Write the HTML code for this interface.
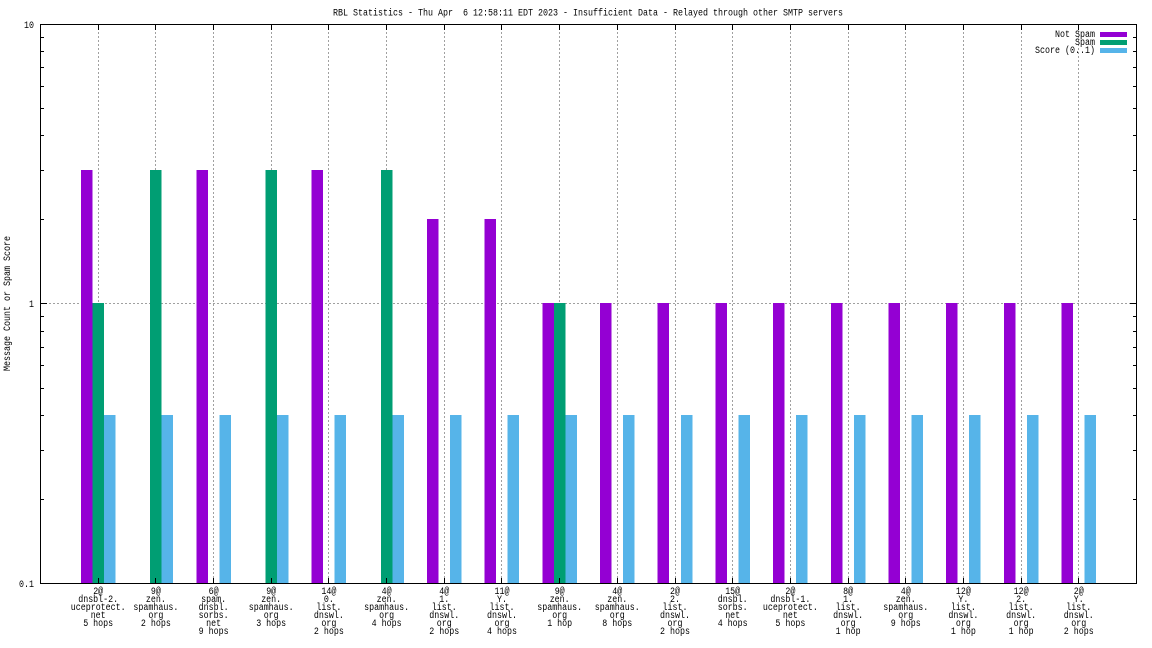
<!DOCTYPE html>
<html><head><meta charset="utf-8"><style>
html,body{margin:0;padding:0;background:#fff;}
svg{display:block;}
text{font-family:"Liberation Mono",monospace;font-size:10px;fill:#000;}
.xl text{text-anchor:middle;}
</style></head><body>
<svg width="1152" height="648" viewBox="0 0 1152 648" xmlns="http://www.w3.org/2000/svg">
<rect width="1152" height="648" fill="#fff"/>
<text x="588" y="15.5" text-anchor="middle" textLength="510" lengthAdjust="spacingAndGlyphs" xml:space="preserve" style="white-space:pre">RBL Statistics - Thu Apr  6 12:58:11 EDT 2023 - Insufficient Data - Relayed through other SMTP servers</text>
<text transform="translate(10,303.5) rotate(-90)" text-anchor="middle" textLength="135" lengthAdjust="spacingAndGlyphs">Message Count or Spam Score</text>
<text x="34" y="28" text-anchor="end" textLength="10" lengthAdjust="spacingAndGlyphs">10</text>
<text x="34" y="307" text-anchor="end" textLength="5" lengthAdjust="spacingAndGlyphs">1</text>
<text x="34" y="587" text-anchor="end" textLength="15" lengthAdjust="spacingAndGlyphs">0.1</text>
<g stroke="#a0a0a0" stroke-width="1" stroke-dasharray="2,2" shape-rendering="crispEdges">
<line x1="41" y1="303.5" x2="1136" y2="303.5"/>
<line x1="98.5" y1="24" x2="98.5" y2="583"/>
<line x1="155.5" y1="24" x2="155.5" y2="583"/>
<line x1="213.5" y1="24" x2="213.5" y2="583"/>
<line x1="271.5" y1="24" x2="271.5" y2="583"/>
<line x1="328.5" y1="24" x2="328.5" y2="583"/>
<line x1="386.5" y1="24" x2="386.5" y2="583"/>
<line x1="444.5" y1="24" x2="444.5" y2="583"/>
<line x1="501.5" y1="24" x2="501.5" y2="583"/>
<line x1="559.5" y1="24" x2="559.5" y2="583"/>
<line x1="617.5" y1="24" x2="617.5" y2="583"/>
<line x1="675.5" y1="24" x2="675.5" y2="583"/>
<line x1="732.5" y1="24" x2="732.5" y2="583"/>
<line x1="790.5" y1="24" x2="790.5" y2="583"/>
<line x1="848.5" y1="24" x2="848.5" y2="583"/>
<line x1="905.5" y1="24" x2="905.5" y2="583"/>
<line x1="963.5" y1="24" x2="963.5" y2="583"/>
<line x1="1021.5" y1="24" x2="1021.5" y2="583"/>
<line x1="1078.5" y1="24" x2="1078.5" y2="583"/>
</g>
<g shape-rendering="crispEdges">
<g fill="#9400d3">
<rect x="80.9" y="170" width="11.5" height="413"/>
<rect x="196.3" y="170" width="11.5" height="413"/>
<rect x="311.6" y="170" width="11.5" height="413"/>
<rect x="427" y="219" width="11.5" height="364"/>
<rect x="484.7" y="219" width="11.5" height="364"/>
<rect x="542.4" y="303" width="11.5" height="280"/>
<rect x="600" y="303" width="11.5" height="280"/>
<rect x="657.7" y="303" width="11.5" height="280"/>
<rect x="715.4" y="303" width="11.5" height="280"/>
<rect x="773.1" y="303" width="11.5" height="280"/>
<rect x="830.8" y="303" width="11.5" height="280"/>
<rect x="888.5" y="303" width="11.5" height="280"/>
<rect x="946.1" y="303" width="11.5" height="280"/>
<rect x="1003.8" y="303" width="11.5" height="280"/>
<rect x="1061.5" y="303" width="11.5" height="280"/>
</g>
<g fill="#009e73">
<rect x="92.4" y="303" width="11.5" height="280"/>
<rect x="150.1" y="170" width="11.5" height="413"/>
<rect x="265.5" y="170" width="11.5" height="413"/>
<rect x="380.8" y="170" width="11.5" height="413"/>
<rect x="553.9" y="303" width="11.5" height="280"/>
</g>
<g fill="#56b4e9">
<rect x="104" y="415" width="11.5" height="168"/>
<rect x="161.6" y="415" width="11.5" height="168"/>
<rect x="219.3" y="415" width="11.5" height="168"/>
<rect x="277" y="415" width="11.5" height="168"/>
<rect x="334.7" y="415" width="11.5" height="168"/>
<rect x="392.4" y="415" width="11.5" height="168"/>
<rect x="450.1" y="415" width="11.5" height="168"/>
<rect x="507.7" y="415" width="11.5" height="168"/>
<rect x="565.4" y="415" width="11.5" height="168"/>
<rect x="623.1" y="415" width="11.5" height="168"/>
<rect x="680.8" y="415" width="11.5" height="168"/>
<rect x="738.5" y="415" width="11.5" height="168"/>
<rect x="796.2" y="415" width="11.5" height="168"/>
<rect x="853.9" y="415" width="11.5" height="168"/>
<rect x="911.5" y="415" width="11.5" height="168"/>
<rect x="969.2" y="415" width="11.5" height="168"/>
<rect x="1026.9" y="415" width="11.5" height="168"/>
<rect x="1084.6" y="415" width="11.5" height="168"/>
</g>
</g>
<g stroke="#000" stroke-width="1" shape-rendering="crispEdges" fill="none">
<rect x="40.5" y="24.5" width="1096" height="559"/>
<path d="M40 37.5h4M40 51.5h4M40 67.5h4M40 86.5h4M40 108.5h4M40 135.5h4M40 170.5h4M40 219.5h4M40 316.5h4M40 331.5h4M40 347.5h4M40 365.5h4M40 388.5h4M40 415.5h4M40 450.5h4M40 499.5h4"/>
<path d="M1137 37.5h-4M1137 51.5h-4M1137 67.5h-4M1137 86.5h-4M1137 108.5h-4M1137 135.5h-4M1137 170.5h-4M1137 219.5h-4M1137 316.5h-4M1137 331.5h-4M1137 347.5h-4M1137 365.5h-4M1137 388.5h-4M1137 415.5h-4M1137 450.5h-4M1137 499.5h-4"/>
<path d="M40 303.5h7M1137 303.5h-7"/>
<path d="M98.5 24v6M155.5 24v6M213.5 24v6M271.5 24v6M328.5 24v6M386.5 24v6M444.5 24v6M501.5 24v6M559.5 24v6M617.5 24v6M675.5 24v6M732.5 24v6M790.5 24v6M848.5 24v6M905.5 24v6M963.5 24v6M1021.5 24v6M1078.5 24v6"/>
<path d="M98.5 584v-6M155.5 584v-6M213.5 584v-6M271.5 584v-6M328.5 584v-6M386.5 584v-6M444.5 584v-6M501.5 584v-6M559.5 584v-6M617.5 584v-6M675.5 584v-6M732.5 584v-6M790.5 584v-6M848.5 584v-6M905.5 584v-6M963.5 584v-6M1021.5 584v-6M1078.5 584v-6"/>
</g>
<text x="1095" y="37" text-anchor="end" textLength="40" lengthAdjust="spacingAndGlyphs">Not Spam</text>
<text x="1095" y="45" text-anchor="end" textLength="20" lengthAdjust="spacingAndGlyphs">Spam</text>
<text x="1095" y="53" text-anchor="end" textLength="60" lengthAdjust="spacingAndGlyphs">Score (0..1)</text>
<rect x="1100" y="32" width="27" height="5" fill="#9400d3"/>
<rect x="1100" y="40" width="27" height="5" fill="#009e73"/>
<rect x="1100" y="48" width="27" height="5" fill="#56b4e9"/>
<g class="xl">
<text x="98.2" y="594" textLength="10" lengthAdjust="spacingAndGlyphs">2@</text>
<text x="98.2" y="602" textLength="40" lengthAdjust="spacingAndGlyphs">dnsbl-2.</text>
<text x="98.2" y="610" textLength="55" lengthAdjust="spacingAndGlyphs">uceprotect.</text>
<text x="98.2" y="618" textLength="15" lengthAdjust="spacingAndGlyphs">net</text>
<text x="98.2" y="626" textLength="30" lengthAdjust="spacingAndGlyphs">5 hops</text>

<text x="155.9" y="594" textLength="10" lengthAdjust="spacingAndGlyphs">9@</text>
<text x="155.9" y="602" textLength="20" lengthAdjust="spacingAndGlyphs">zen.</text>
<text x="155.9" y="610" textLength="45" lengthAdjust="spacingAndGlyphs">spamhaus.</text>
<text x="155.9" y="618" textLength="15" lengthAdjust="spacingAndGlyphs">org</text>
<text x="155.9" y="626" textLength="30" lengthAdjust="spacingAndGlyphs">2 hops</text>

<text x="213.6" y="594" textLength="10" lengthAdjust="spacingAndGlyphs">6@</text>
<text x="213.6" y="602" textLength="25" lengthAdjust="spacingAndGlyphs">spam.</text>
<text x="213.6" y="610" textLength="30" lengthAdjust="spacingAndGlyphs">dnsbl.</text>
<text x="213.6" y="618" textLength="30" lengthAdjust="spacingAndGlyphs">sorbs.</text>
<text x="213.6" y="626" textLength="15" lengthAdjust="spacingAndGlyphs">net</text>
<text x="213.6" y="634" textLength="30" lengthAdjust="spacingAndGlyphs">9 hops</text>

<text x="271.2" y="594" textLength="10" lengthAdjust="spacingAndGlyphs">9@</text>
<text x="271.2" y="602" textLength="20" lengthAdjust="spacingAndGlyphs">zen.</text>
<text x="271.2" y="610" textLength="45" lengthAdjust="spacingAndGlyphs">spamhaus.</text>
<text x="271.2" y="618" textLength="15" lengthAdjust="spacingAndGlyphs">org</text>
<text x="271.2" y="626" textLength="30" lengthAdjust="spacingAndGlyphs">3 hops</text>

<text x="328.9" y="594" textLength="15" lengthAdjust="spacingAndGlyphs">14@</text>
<text x="328.9" y="602" textLength="10" lengthAdjust="spacingAndGlyphs">0.</text>
<text x="328.9" y="610" textLength="25" lengthAdjust="spacingAndGlyphs">list.</text>
<text x="328.9" y="618" textLength="30" lengthAdjust="spacingAndGlyphs">dnswl.</text>
<text x="328.9" y="626" textLength="15" lengthAdjust="spacingAndGlyphs">org</text>
<text x="328.9" y="634" textLength="30" lengthAdjust="spacingAndGlyphs">2 hops</text>

<text x="386.6" y="594" textLength="10" lengthAdjust="spacingAndGlyphs">4@</text>
<text x="386.6" y="602" textLength="20" lengthAdjust="spacingAndGlyphs">zen.</text>
<text x="386.6" y="610" textLength="45" lengthAdjust="spacingAndGlyphs">spamhaus.</text>
<text x="386.6" y="618" textLength="15" lengthAdjust="spacingAndGlyphs">org</text>
<text x="386.6" y="626" textLength="30" lengthAdjust="spacingAndGlyphs">4 hops</text>

<text x="444.3" y="594" textLength="10" lengthAdjust="spacingAndGlyphs">4@</text>
<text x="444.3" y="602" textLength="10" lengthAdjust="spacingAndGlyphs">1.</text>
<text x="444.3" y="610" textLength="25" lengthAdjust="spacingAndGlyphs">list.</text>
<text x="444.3" y="618" textLength="30" lengthAdjust="spacingAndGlyphs">dnswl.</text>
<text x="444.3" y="626" textLength="15" lengthAdjust="spacingAndGlyphs">org</text>
<text x="444.3" y="634" textLength="30" lengthAdjust="spacingAndGlyphs">2 hops</text>

<text x="502" y="594" textLength="15" lengthAdjust="spacingAndGlyphs">11@</text>
<text x="502" y="602" textLength="10" lengthAdjust="spacingAndGlyphs">Y.</text>
<text x="502" y="610" textLength="25" lengthAdjust="spacingAndGlyphs">list.</text>
<text x="502" y="618" textLength="30" lengthAdjust="spacingAndGlyphs">dnswl.</text>
<text x="502" y="626" textLength="15" lengthAdjust="spacingAndGlyphs">org</text>
<text x="502" y="634" textLength="30" lengthAdjust="spacingAndGlyphs">4 hops</text>

<text x="559.7" y="594" textLength="10" lengthAdjust="spacingAndGlyphs">9@</text>
<text x="559.7" y="602" textLength="20" lengthAdjust="spacingAndGlyphs">zen.</text>
<text x="559.7" y="610" textLength="45" lengthAdjust="spacingAndGlyphs">spamhaus.</text>
<text x="559.7" y="618" textLength="15" lengthAdjust="spacingAndGlyphs">org</text>
<text x="559.7" y="626" textLength="25" lengthAdjust="spacingAndGlyphs">1 hop</text>

<text x="617.3" y="594" textLength="10" lengthAdjust="spacingAndGlyphs">4@</text>
<text x="617.3" y="602" textLength="20" lengthAdjust="spacingAndGlyphs">zen.</text>
<text x="617.3" y="610" textLength="45" lengthAdjust="spacingAndGlyphs">spamhaus.</text>
<text x="617.3" y="618" textLength="15" lengthAdjust="spacingAndGlyphs">org</text>
<text x="617.3" y="626" textLength="30" lengthAdjust="spacingAndGlyphs">8 hops</text>

<text x="675" y="594" textLength="10" lengthAdjust="spacingAndGlyphs">2@</text>
<text x="675" y="602" textLength="10" lengthAdjust="spacingAndGlyphs">2.</text>
<text x="675" y="610" textLength="25" lengthAdjust="spacingAndGlyphs">list.</text>
<text x="675" y="618" textLength="30" lengthAdjust="spacingAndGlyphs">dnswl.</text>
<text x="675" y="626" textLength="15" lengthAdjust="spacingAndGlyphs">org</text>
<text x="675" y="634" textLength="30" lengthAdjust="spacingAndGlyphs">2 hops</text>

<text x="732.7" y="594" textLength="15" lengthAdjust="spacingAndGlyphs">15@</text>
<text x="732.7" y="602" textLength="30" lengthAdjust="spacingAndGlyphs">dnsbl.</text>
<text x="732.7" y="610" textLength="30" lengthAdjust="spacingAndGlyphs">sorbs.</text>
<text x="732.7" y="618" textLength="15" lengthAdjust="spacingAndGlyphs">net</text>
<text x="732.7" y="626" textLength="30" lengthAdjust="spacingAndGlyphs">4 hops</text>

<text x="790.4" y="594" textLength="10" lengthAdjust="spacingAndGlyphs">2@</text>
<text x="790.4" y="602" textLength="40" lengthAdjust="spacingAndGlyphs">dnsbl-1.</text>
<text x="790.4" y="610" textLength="55" lengthAdjust="spacingAndGlyphs">uceprotect.</text>
<text x="790.4" y="618" textLength="15" lengthAdjust="spacingAndGlyphs">net</text>
<text x="790.4" y="626" textLength="30" lengthAdjust="spacingAndGlyphs">5 hops</text>

<text x="848.1" y="594" textLength="10" lengthAdjust="spacingAndGlyphs">8@</text>
<text x="848.1" y="602" textLength="10" lengthAdjust="spacingAndGlyphs">1.</text>
<text x="848.1" y="610" textLength="25" lengthAdjust="spacingAndGlyphs">list.</text>
<text x="848.1" y="618" textLength="30" lengthAdjust="spacingAndGlyphs">dnswl.</text>
<text x="848.1" y="626" textLength="15" lengthAdjust="spacingAndGlyphs">org</text>
<text x="848.1" y="634" textLength="25" lengthAdjust="spacingAndGlyphs">1 hop</text>

<text x="905.8" y="594" textLength="10" lengthAdjust="spacingAndGlyphs">4@</text>
<text x="905.8" y="602" textLength="20" lengthAdjust="spacingAndGlyphs">zen.</text>
<text x="905.8" y="610" textLength="45" lengthAdjust="spacingAndGlyphs">spamhaus.</text>
<text x="905.8" y="618" textLength="15" lengthAdjust="spacingAndGlyphs">org</text>
<text x="905.8" y="626" textLength="30" lengthAdjust="spacingAndGlyphs">9 hops</text>

<text x="963.4" y="594" textLength="15" lengthAdjust="spacingAndGlyphs">12@</text>
<text x="963.4" y="602" textLength="10" lengthAdjust="spacingAndGlyphs">Y.</text>
<text x="963.4" y="610" textLength="25" lengthAdjust="spacingAndGlyphs">list.</text>
<text x="963.4" y="618" textLength="30" lengthAdjust="spacingAndGlyphs">dnswl.</text>
<text x="963.4" y="626" textLength="15" lengthAdjust="spacingAndGlyphs">org</text>
<text x="963.4" y="634" textLength="25" lengthAdjust="spacingAndGlyphs">1 hop</text>

<text x="1021.1" y="594" textLength="15" lengthAdjust="spacingAndGlyphs">12@</text>
<text x="1021.1" y="602" textLength="10" lengthAdjust="spacingAndGlyphs">2.</text>
<text x="1021.1" y="610" textLength="25" lengthAdjust="spacingAndGlyphs">list.</text>
<text x="1021.1" y="618" textLength="30" lengthAdjust="spacingAndGlyphs">dnswl.</text>
<text x="1021.1" y="626" textLength="15" lengthAdjust="spacingAndGlyphs">org</text>
<text x="1021.1" y="634" textLength="25" lengthAdjust="spacingAndGlyphs">1 hop</text>

<text x="1078.8" y="594" textLength="10" lengthAdjust="spacingAndGlyphs">2@</text>
<text x="1078.8" y="602" textLength="10" lengthAdjust="spacingAndGlyphs">Y.</text>
<text x="1078.8" y="610" textLength="25" lengthAdjust="spacingAndGlyphs">list.</text>
<text x="1078.8" y="618" textLength="30" lengthAdjust="spacingAndGlyphs">dnswl.</text>
<text x="1078.8" y="626" textLength="15" lengthAdjust="spacingAndGlyphs">org</text>
<text x="1078.8" y="634" textLength="30" lengthAdjust="spacingAndGlyphs">2 hops</text>
</g>
</svg>
</body></html>
